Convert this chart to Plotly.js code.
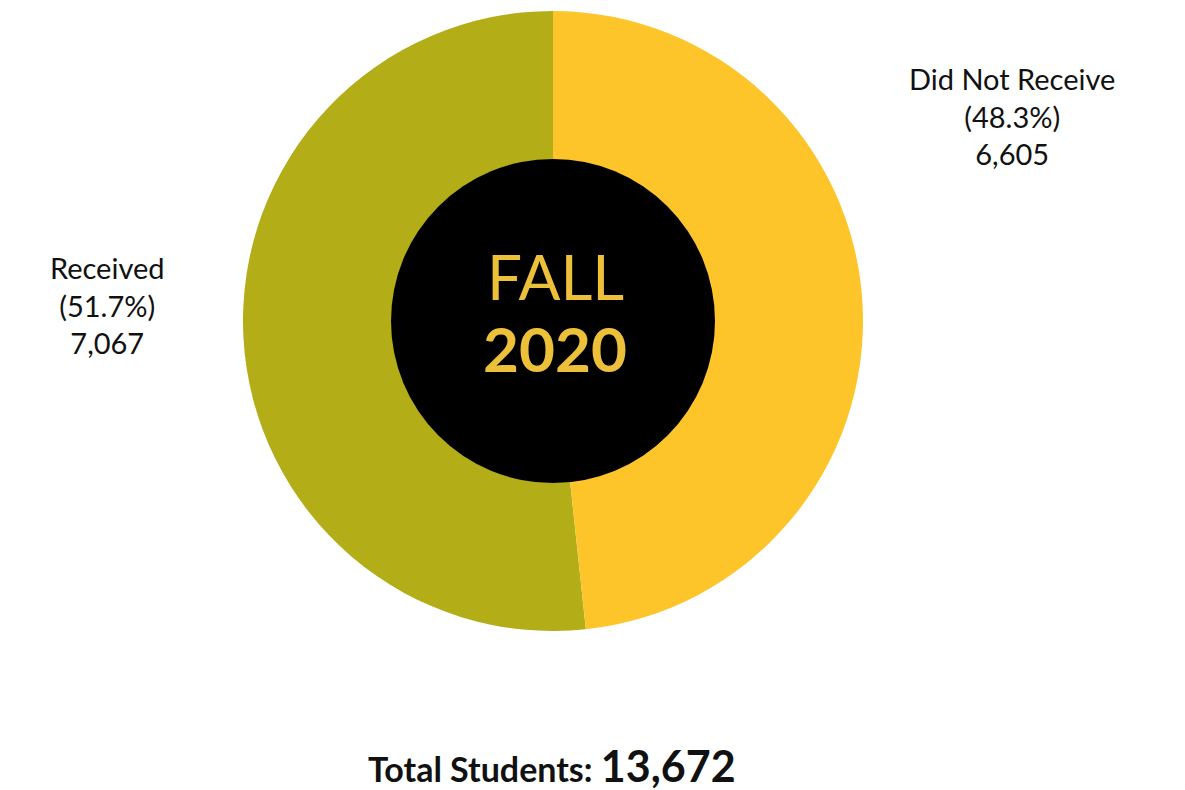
<!DOCTYPE html>
<html>
<head>
<meta charset="utf-8">
<script src="https://cdn.plot.ly/plotly-3.0.1.min.js"></script>
<style>html,body{margin:0;padding:0;background:#fff;}#chart{width:1185px;height:790px;}</style>
</head>
<body>
<div id="chart"></div>
<script>
const categories = ["Received", "Did Not Receive"];
const counts = [7067, 6605];
const percents = [51.7, 48.3];
const sliceColors = ["#B3AD18", "#FEC52B"];
const centerLines = ["FALL", "2020"];
const totalStudents = 13672;

const fmt = n => n.toLocaleString("en-US");
const labelText = i => categories[i] + "<br>(" + percents[i].toFixed(1) + "%)<br>" + fmt(counts[i]);

const W = 1185, H = 790;
const px = x => x / W;
const py = y => 1 - y / H;

// start the first slice so that it ends at 12 o'clock (drawn counter-clockwise from the top)
const firstShare = counts[0] / counts.reduce((a, b) => a + b, 0);

const trace = {
  type: "pie",
  labels: categories,
  values: counts,
  marker: { colors: sliceColors, line: { width: 0 } },
  sort: false,
  direction: "clockwise",
  rotation: 360 - firstShare * 360,
  hole: 0.52,
  textinfo: "none",
  hoverinfo: "skip",
  showlegend: false,
  domain: { x: [px(243), px(863)], y: [py(631), py(11)] }
};

const labelFont = { family: "Lato, 'Open Sans', sans-serif", size: 29, color: "#111" };

const layout = {
  width: W, height: H,
  margin: { l: 0, r: 0, t: 0, b: 0 },
  paper_bgcolor: "#fff",
  plot_bgcolor: "#fff",
  showlegend: false,
  shapes: [{
    type: "circle", xref: "paper", yref: "paper", layer: "above",
    x0: px(391), x1: px(715), y0: py(483), y1: py(159),
    fillcolor: "#000", line: { width: 0 }
  }],
  annotations: [
    { text: labelText(1), x: px(1012), y: py(116), xref: "paper", yref: "paper",
      showarrow: false, font: labelFont, align: "center", xanchor: "center", yanchor: "middle" },
    { text: labelText(0), x: px(107), y: py(305), xref: "paper", yref: "paper",
      showarrow: false, font: labelFont, align: "center", xanchor: "center", yanchor: "middle" },
    { text: centerLines[0], x: px(555), y: py(276), xref: "paper", yref: "paper",
      showarrow: false, font: { family: "Lato, 'Open Sans', sans-serif", size: 62, color: "#EDC03A" },
      xanchor: "center", yanchor: "middle" },
    { text: "<b>" + centerLines[1] + "</b>", x: px(555), y: py(348), xref: "paper", yref: "paper",
      showarrow: false, font: { family: "Lato, 'Open Sans', sans-serif", size: 62, color: "#EDC03A" },
      xanchor: "center", yanchor: "middle" },
    { text: "<b>Total Students: <span style='font-size:43px'>" + fmt(totalStudents) + "</span></b>",
      x: px(552), y: py(765), xref: "paper", yref: "paper",
      showarrow: false, font: { family: "Lato, 'Open Sans', sans-serif", size: 34, color: "#111" },
      xanchor: "center", yanchor: "middle" }
  ]
};

Plotly.newPlot("chart", [trace], layout, { displayModeBar: false, staticPlot: true });
</script>
</body>
</html>
